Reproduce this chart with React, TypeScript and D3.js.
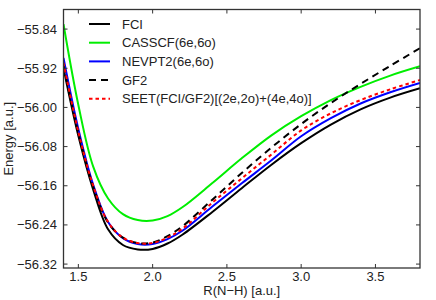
import * as d3 from 'd3';
import React, { useRef, useEffect } from 'react';

// bond length grid, a.u.
const rValues = [1.4, 1.5, 1.6, 1.7, 1.8, 1.9, 2.0, 2.1, 2.2, 2.4, 2.6, 2.8, 3.0, 3.2, 3.4, 3.6, 3.8];

const fci = [-55.920, -56.058, -56.168, -56.249, -56.281, -56.290, -56.289, -56.278, -56.260, -56.214, -56.165, -56.117, -56.073, -56.035, -56.004, -55.980, -55.961];
const casscf = [-55.830, -55.995, -56.121, -56.186, -56.218, -56.230, -56.231, -56.222, -56.204, -56.155, -56.104, -56.057, -56.018, -55.985, -55.958, -55.935, -55.916];
const nevpt2 = [-55.899, -56.044, -56.158, -56.234, -56.267, -56.279, -56.279, -56.269, -56.252, -56.203, -56.155, -56.108, -56.059, -56.022, -55.992, -55.969, -55.950];
const gf2 = [-55.915, -56.052, -56.162, -56.235, -56.266, -56.277, -56.276, -56.263, -56.243, -56.189, -56.134, -56.082, -56.034, -55.991, -55.952, -55.915, -55.879];
const seet = [-55.909, -56.050, -56.160, -56.234, -56.266, -56.277, -56.277, -56.266, -56.248, -56.195, -56.145, -56.096, -56.047, -56.012, -55.985, -55.963, -55.944];

const seriesNames = ['FCI', 'CASSCF(6e,6o)', 'NEVPT2(6e,6o)', 'GF2', 'SEET(FCI/GF2)[(2e,2o)+(4e,4o)]'];
const seriesValues = [fci, casscf, nevpt2, gf2, seet];
const seriesColors = ['#000000', '#00ee00', '#0000ff', '#000000', '#ff0000'];
const seriesDash = ['', '', '', '7,5', '3.5,3'];

const xTicks = [1.5, 2.0, 2.5, 3.0, 3.5];
const yTicks = [-55.84, -55.92, -56.00, -56.08, -56.16, -56.24, -56.32];

const App: React.FC = () => {
  const ref = useRef<SVGSVGElement>(null);

  useEffect(() => {
    if (!ref.current) return;
    const svg = d3.select(ref.current);
    svg.selectAll('*').remove();

    const left = 63.5, right = 420, top = 9.5, bottom = 268;
    const font = 'Liberation Sans, Arial, sans-serif';
    const axisColor = '#333';

    const x = d3.scaleLinear().domain([1.4, 3.8]).range([left, right]);
    const y = d3.scaleLinear().domain([-56.328, -55.80]).range([bottom, top]);

    svg.append('defs').append('clipPath').attr('id', 'plot-clip')
      .append('rect')
      .attr('x', left).attr('y', top)
      .attr('width', right - left).attr('height', bottom - top);

    const line = d3.line<[number, number]>()
      .x(d => x(d[0]))
      .y(d => y(d[1]))
      .curve(d3.curveCatmullRom.alpha(0.5));

    const plot = svg.append('g').attr('clip-path', 'url(#plot-clip)');
    seriesValues.forEach((vals, i) => {
      plot.append('path')
        .datum(rValues.map((r, j) => [r, vals[j]] as [number, number]))
        .attr('d', line)
        .attr('fill', 'none')
        .attr('stroke', seriesColors[i])
        .attr('stroke-width', 2)
        .attr('stroke-dasharray', seriesDash[i]);
    });

    // frame
    svg.append('rect')
      .attr('x', left).attr('y', top)
      .attr('width', right - left).attr('height', bottom - top)
      .attr('fill', 'none')
      .attr('stroke', axisColor)
      .attr('stroke-width', 1.3);

    const tickLen = 4;
    const fmtX = d3.format('.1f');
    const fmtY = d3.format('.2f');

    xTicks.forEach(t => {
      const px = x(t);
      svg.append('line').attr('x1', px).attr('x2', px).attr('y1', bottom).attr('y2', bottom - tickLen)
        .attr('stroke', axisColor);
      svg.append('line').attr('x1', px).attr('x2', px).attr('y1', top).attr('y2', top + tickLen)
        .attr('stroke', axisColor);
      svg.append('text')
        .attr('x', px).attr('y', 281)
        .attr('text-anchor', 'middle')
        .attr('font-family', font).attr('font-size', 13)
        .attr('fill', '#222')
        .text(fmtX(t));
    });

    yTicks.forEach(t => {
      const py = y(t);
      svg.append('line').attr('x1', left).attr('x2', left + tickLen).attr('y1', py).attr('y2', py)
        .attr('stroke', axisColor);
      svg.append('line').attr('x1', right).attr('x2', right - tickLen).attr('y1', py).attr('y2', py)
        .attr('stroke', axisColor);
      svg.append('text')
        .attr('x', 57).attr('y', py + 4.5)
        .attr('text-anchor', 'end')
        .attr('font-family', font).attr('font-size', 13)
        .attr('fill', '#222')
        .text(fmtY(t));
    });

    svg.append('text')
      .attr('x', (left + right) / 2).attr('y', 295)
      .attr('text-anchor', 'middle')
      .attr('font-family', font).attr('font-size', 13)
      .attr('fill', '#222')
      .text('R(N\u2212H) [a.u.]');

    svg.append('text')
      .attr('transform', `translate(13,${(top + bottom) / 2}) rotate(-90)`)
      .attr('text-anchor', 'middle')
      .attr('font-family', font).attr('font-size', 13)
      .attr('fill', '#222')
      .text('Energy [a.u.]');

    // legend
    const legend = svg.append('g');
    seriesNames.forEach((name, i) => {
      const ly = 24 + i * 18.7;
      legend.append('line')
        .attr('x1', 89).attr('x2', 110).attr('y1', ly).attr('y2', ly)
        .attr('stroke', seriesColors[i])
        .attr('stroke-width', 2)
        .attr('stroke-dasharray', seriesDash[i]);
      legend.append('text')
        .attr('x', 122).attr('y', ly + 4.5)
        .attr('font-family', font).attr('font-size', 13)
        .attr('fill', '#222')
        .text(name);
    });
  }, []);

  return (
    <svg ref={ref} width={436} height={300}
      style={{ position: 'absolute', left: 0, top: 0, background: '#fff' }} />
  );
};

export default App;
